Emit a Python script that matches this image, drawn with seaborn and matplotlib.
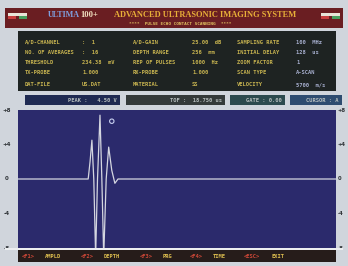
import numpy as np
import pandas as pd
import matplotlib
matplotlib.use("Agg")
import matplotlib.pyplot as plt
from matplotlib.patches import Rectangle
import seaborn as sns

# A-scan trace (sample index, amplitude)
samples = [0, 113, 116, 119, 122, 125, 128, 132, 135, 138, 142, 146, 151, 156, 161, 512]
amplitude = [0, 0, 2.0, 4.5, 0, -9.0, 0, 7.4, 0, -9.0, 0, 3.7, 1.0, -0.5, 0, 0]
cursor_x = [151]
cursor_y = [6.7]
y_ticks = [8, 4, 0, -4, -8]
y_labels = ["+8", "+4", "0", "-4", "-8"]

param_names_1 = ["A/D-CHANNEL", "NO. OF AVERAGES", "THRESHOLD", "TX-PROBE", "DAT-FILE"]
param_vals_1 = [":  1", ":  16", "234.38  mV", "1.000", "US.DAT"]
param_names_2 = ["A/D-GAIN", "DEPTH RANGE", "REP OF PULSES", "RX-PROBE", "MATERIAL"]
param_vals_2 = ["25.00  dB", "256  mm", "1000  Hz", "1.000", "SS"]
param_names_3 = ["SAMPLING RATE", "INITIAL DELAY", "ZOOM FACTOR", "SCAN TYPE", "VELOCITY"]
param_vals_3 = ["100  MHz", "128  us", "1", "A-SCAN", "5700  m/s"]

status_texts = ["PEAK :   4.50 V", "TOF :  18.750 us", "GATE : 0.00", "CURSOR : A"]
menu_keys = ["<F1>", "<F2>", "<F3>", "<F4>", "<ESC>"]
menu_items = ["AMPLD", "DEPTH", "PRG", "TIME", "EXIT"]

W, H = 348, 266
fig = plt.figure(figsize=(W / 100, H / 100), dpi=100)
fig.patch.set_facecolor("#d0d5dc")


def box(x0, y0, x1, y1, color):
    fig.add_artist(Rectangle((x0 / W, 1 - y1 / H), (x1 - x0) / W, (y1 - y0) / H,
                             transform=fig.transFigure, facecolor=color,
                             edgecolor="none"))


def txt(x, y, s, **kw):
    kw.setdefault("va", "center")
    fig.text(x / W, 1 - y / H, s, **kw)


mono = dict(family="DejaVu Sans Mono", fontweight="bold", fontsize=3.9)

# title bar
box(5, 8, 343, 28, "#6a1e22")
for fx in (8, 321):
    box(fx, 13, fx + 19, 16, "#e8e4d8")
    box(fx, 16, fx + 8, 19, "#c84040")
    box(fx + 11, 16, fx + 19, 19, "#48a060")
txt(48, 15, "ULTIMA", family="Liberation Serif", fontsize=5.8, fontweight="bold", color="#7fa0e0")
txt(80, 15, "100+", family="Liberation Serif", fontsize=6.2, fontweight="bold", color="#f0e0c0")
txt(114, 15, "ADVANCED ULTRASONIC IMAGING SYSTEM", family="Liberation Serif",
    fontsize=6.0, fontweight="bold", color="#e8b038")
txt(180, 24, "****  PULSE ECHO CONTACT SCANNING  ****", ha="center",
    family="DejaVu Sans Mono", fontsize=3.2, fontweight="bold", color="#e0c060")

# parameter panel
box(18, 31, 336, 91, "#1e2322")
rows_y = [42, 52, 63, 73, 85]
for i, y in enumerate(rows_y):
    txt(25, y, param_names_1[i], color="#c8b450", **mono)
    txt(82, y, param_vals_1[i], color="#c8b450", **mono)
    txt(133, y, param_names_2[i], color="#c8b450", **mono)
    txt(192, y, param_vals_2[i], color="#c8b450", **mono)
    txt(237, y, param_names_3[i], color="#c8b450", **mono)
    txt(296, y, param_vals_3[i], color="#a8b0d0", **mono)

# status boxes
status_boxes = [(25, 120, "#1f2a52"), (126, 225, "#343a3a"), (230, 285, "#2c4a4e"), (290, 342, "#2e4c70")]
for (x0, x1, c), s in zip(status_boxes, status_texts):
    box(x0, 95, x1, 105, c)
    txt(x1 - 3, 100, s, ha="right", color="#b8c0c0", **mono)

# plot area
ax = fig.add_axes([18 / W, 1 - 248 / H, (336 - 18) / W, (248 - 110) / H])
ax.set_facecolor("#2b2a6c")
df = pd.DataFrame({"sample": samples, "amplitude": amplitude})
sns.lineplot(data=df, x="sample", y="amplitude", ax=ax, color="#d4d6e0",
             linewidth=0.9, estimator=None)
sns.scatterplot(x=cursor_x, y=cursor_y, ax=ax, s=10, facecolor="none",
                edgecolor="#c8d0f0", linewidth=0.8)
ax.set_xlim(0, 512)
ax.set_ylim(-8, 8)
ax.set_xticks([])
ax.set_yticks([])
ax.set_xlabel("")
ax.set_ylabel("")
for sp in ax.spines.values():
    sp.set_visible(False)
for t, lab in zip(y_ticks, y_labels):
    ax.text(-0.035, t, lab, transform=ax.get_yaxis_transform(), ha="center",
            va="center", fontsize=4, fontweight="bold", color="#303438", clip_on=False)
    ax.text(1.006, t, lab, transform=ax.get_yaxis_transform(), ha="left",
            va="center", fontsize=3.8, fontweight="bold", color="#303438", clip_on=False)

# bottom menu bar
box(5, 248, 343, 250, "#eceef0")
box(18, 250, 336, 262, "#261c1a")
x = 22
for k, m in zip(menu_keys, menu_items):
    txt(x, 256, k, color="#d04838", **mono)
    x += 4.3 * len(k) + 6
    txt(x, 256, m, color="#e0c050", **mono)
    x += 4.3 * len(m) + 14

fig.savefig("out.png", dpi=100, facecolor=fig.get_facecolor())
